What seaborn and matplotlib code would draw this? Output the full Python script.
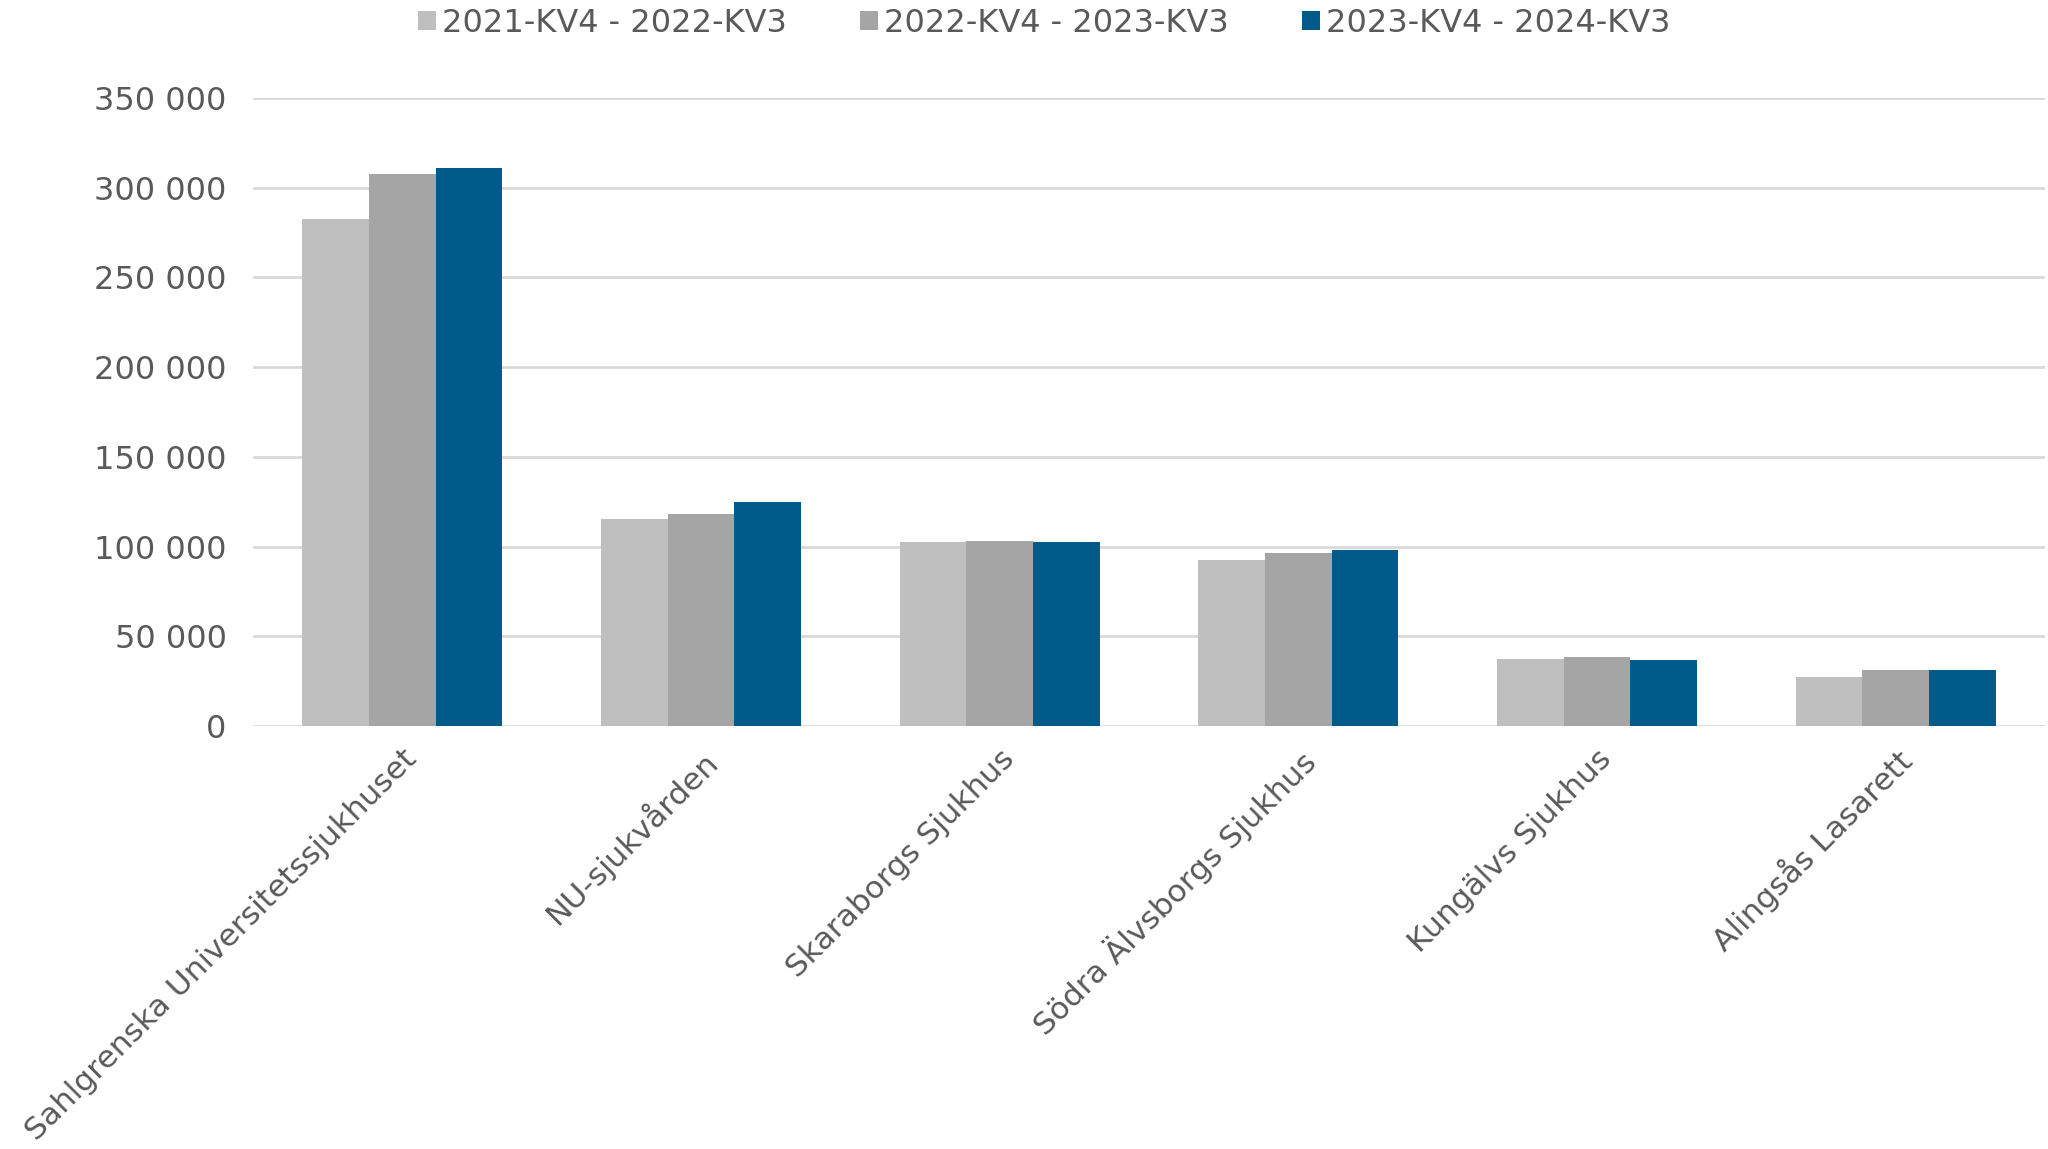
import matplotlib
matplotlib.use("Agg")
import matplotlib.pyplot as plt
import seaborn as sns
import pandas as pd
from matplotlib.ticker import FuncFormatter
from matplotlib.patches import Patch

# Data
hospitals = [
    "Sahlgrenska Universitetssjukhuset",
    "NU-sjukvården",
    "Skaraborgs Sjukhus",
    "Södra Älvsborgs Sjukhus",
    "Kungälvs Sjukhus",
    "Alingsås Lasarett",
]
periods = ["2021-KV4 - 2022-KV3", "2022-KV4 - 2023-KV3", "2023-KV4 - 2024-KV3"]
p2022 = [282500, 115700, 102400, 92600, 37400, 27600]
p2023 = [307700, 118200, 103200, 96500, 38300, 31500]
p2024 = [311000, 124900, 102400, 97900, 36800, 31500]

colors = ["#BFBFBF", "#A5A5A5", "#005A8A"]
text_color = "#595959"

df = pd.DataFrame({
    "sjukhus": hospitals * 3,
    "period": [periods[0]] * 6 + [periods[1]] * 6 + [periods[2]] * 6,
    "antal": p2022 + p2023 + p2024,
})

sns.set_style("white")
plt.rcParams["font.family"] = ["DejaVu Sans"]

fig = plt.figure(figsize=(20.48, 11.49), dpi=100)
ax = fig.add_axes([0.1235, 0.368, 0.875, 0.5467])

sns.barplot(data=df, x="sjukhus", y="antal", hue="period", palette=colors,
            width=0.67, saturation=1, errorbar=None, ax=ax, legend=False,
            linewidth=0, zorder=3)

ax.set_ylim(0, 350000)
ax.set_xlim(-0.5, 5.5)
ax.set_yticks(range(0, 350001, 50000))
ax.yaxis.set_major_formatter(FuncFormatter(lambda v, p: f"{int(v):,}".replace(",", " ")))
ax.grid(axis="y", color="#D9D9D9", linewidth=2, zorder=0)
ax.set_axisbelow(True)
for s in ax.spines.values():
    s.set_visible(False)
ax.set_xlabel("")
ax.set_ylabel("")
ax.tick_params(axis="both", length=0, colors=text_color)
ax.tick_params(axis="y", pad=19, labelsize=23)
ax.tick_params(axis="x", pad=13, labelsize=22.5)
plt.setp(ax.get_xticklabels(), rotation=45, ha="right", rotation_mode="anchor")

handles = [Patch(facecolor=c, edgecolor="none") for c in colors]
fig.legend(handles, periods, loc="upper center", bbox_to_anchor=(0.51, 1.018),
           ncol=3, frameon=False, fontsize=23, labelcolor=text_color,
           handlelength=0.55, handleheight=0.55, handletextpad=0.2,
           columnspacing=2.3)

fig.savefig("out.png", dpi=100)
